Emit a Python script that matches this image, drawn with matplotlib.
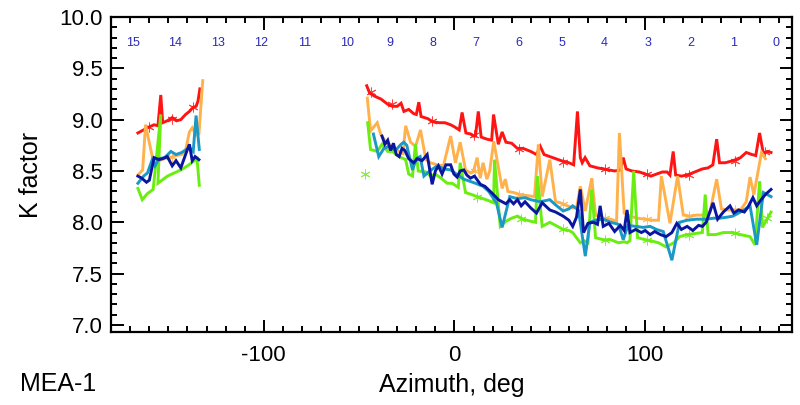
import matplotlib
matplotlib.use("Agg")
import matplotlib.pyplot as plt
import numpy as np
from matplotlib.ticker import MultipleLocator, FormatStrFormatter

plt.rcParams["font.family"] = ["Liberation Sans", "DejaVu Sans"]
plt.rcParams["axes.unicode_minus"] = False

NAN = float("nan")

# sector numbers written along the top of the plot
SECTOR_LABELS = [str(i) for i in range(15, -1, -1)]
SECTOR_AZ = [-168.75, -146.25, -123.75, -101.25, -78.75, -56.25, -33.75, -11.25,
             11.25, 33.75, 56.25, 78.75, 101.25, 123.75, 146.25, 168.75]

# --- red ---
RED_AZ = [-166, -163, -160, -157.5, -155.5, -154, -153, -150.5, -148, -145.5,
          -143.5, -141, -139, -137, -135.5, -134.5, -133.5, NAN,
          -46, -44.5, -42, -38.5, -35, -32.5, -30, -28, -26.5, -24,
          -21.5, -20, -18.7, -17.5, -14, -11.5, -8, -5, -2, 0,
          2.5, 4, 6, 8.5, 10, 11, 12.5, 14, 17, 19.5,
          20.5, 23, 25, 27, 30, 33, 36, 40, 43, 45,
          47, 50, 53, 56, 60, 62.5, 64.5, 66, 67, 68.5,
          71, 75, 78, 81, 84, 87, 88.5, 90, 93, 97,
          100, 103, 106, 109, 111.5, 113, 114.7, 116, 119, 122,
          126, 130, 133, 135.5, 137.5, 139, 142, 146, 150, 153,
          156, 158, 160, 162, 164, 166]
RED_K = [8.87, 8.90, 8.93, 8.95, 8.94, 9.24, 8.97, 8.99, 9.02, 8.99,
         9.00, 9.05, 9.08, 9.12, 9.13, 9.18, 9.30, NAN,
         9.33, 9.26, 9.23, 9.20, 9.15, 9.13, 9.13, 9.16, 9.08, 9.10,
         9.06, 9.05, 9.17, 9.03, 9.01, 8.98, 8.97, 8.97, 8.95, 8.93,
         8.90, 9.07, 8.87, 8.86, 8.84, 8.84, 9.08, 8.83, 8.81, 8.80,
         9.05, 8.76, 8.88, 8.78, 8.77, 8.72, 8.72, 8.69, 8.66, 8.74,
         8.66, 8.64, 8.62, 8.60, 8.58, 8.56, 9.08, 8.63, 8.58, 8.63,
         8.55, 8.53, 8.52, 8.51, 8.50, 8.51, 8.63, 8.52, 8.50, 8.49,
         8.47, 8.45, 8.47, 8.49, 8.49, 8.46, 8.69, 8.46, 8.45, 8.46,
         8.49, 8.52, 8.53, 8.56, 8.81, 8.58, 8.58, 8.60, 8.63, 8.68,
         8.66, 8.65, 8.87, 8.67, 8.69, 8.68]
RED_STAR_AZ = [-160, -148, -137, -44, -33, -12, 10, 34, 57, 79, 101, 123, 147, 163]
RED_STAR_K = [8.93, 9.01, 9.12, 9.27, 9.15, 8.99, 8.85, 8.71, 8.59, 8.52, 8.47, 8.46, 8.60, 8.68]

# --- orange ---
ORANGE_AZ = [-166, -163.5, -162, -158, -155, -152, -149, -146, -143, -141,
             -139, -137.5, -135.5, -134, -132, NAN,
             -45.7, -44, -40.5, -38.7, -36, -33, -30, -27, -25.6, -23,
             -20.4, -17.8, -15, -12.6, -9, -5.8, -2, 0.5, 3, 5.8,
             8.4, 10, 11.9, 13.5, 15, 17, 18.5, 20.6, 25, 26.7,
             28, 31, 34.5, 38, 42, 44, 46, 50, 53, 55.5,
             58, 62, 64, 66, 68.6, 72, 74, 78, 82, 85,
             86.5, 89, 92, 96, 100, 104, 107, 108.5, 113, 117,
             120, 123.6, 127, 130, 134, 137.5, 140, 143, 146, 150,
             153, 155, 157, 161, 163]
ORANGE_K = [8.46, 8.51, 8.95, 8.60, 8.60, 8.62, 8.63, 8.65, 8.66, 8.70,
            8.88, 8.92, 8.85, 8.86, 9.38, NAN,
            9.21, 8.89, 8.97, 8.86, 8.78, 8.72, 8.70, 8.67, 8.94, 8.78,
            8.74, 8.90, 8.61, 8.58, 8.56, 8.55, 8.84, 8.58, 8.78, 8.51,
            8.48, 8.50, 8.63, 8.43, 8.58, 8.42, 8.50, 8.79, 8.33, 8.42,
            8.30, 8.29, 8.27, 8.26, 8.25, 8.76, 8.25, 8.61, 8.20, 8.19,
            8.17, 8.14, 8.14, 8.35, 8.11, 8.43, 8.07, 8.04, 8.03, 8.01,
            8.87, 8.09, 8.06, 8.04, 8.03, 8.02, 8.02, 8.45, 7.99, 8.45,
            8.07, 8.06, 8.07, 8.07, 8.10, 8.42, 8.13, 8.12, 8.12, 8.12,
            8.20, 8.44, 8.27, 8.68, 8.62]
ORANGE_STAR_AZ = [-148, -34, 11, 34, 57, 79, 101, 123, 147]
ORANGE_STAR_K = [8.64, 8.72, 8.50, 8.27, 8.18, 8.04, 8.03, 8.06, 8.12]

# --- green ---
GREEN_AZ = [-166, -163.7, -161, -158, -154, -155.5, -150.5, -147, -143.5, -140,
            -137, -135, -133.8, NAN,
            -45.5, -44, -40.5, -38, -35, -32.6, -29, -25.6, -24, -22,
            -20.5, -19, -15, -12.6, -10, -6.4, -3.8, -1.2, 2, 3,
            5.8, 9, 12, 15, 18, 20.5, 21, 24, 27, 30,
            33, 36, 40, 42.5, 43.5, 46, 50, 53, 57, 60,
            62, 66, 68, 70, 72, 74, 78, 82, 86, 89,
            90.5, 92, 94, 96, 100, 103, 107, 111, 115, 118,
            122, 126, 130, 131.5, 133, 137, 141, 146, 150, 155,
            157.6, 160, 161.5, 163, 166]
GREEN_K = [8.33, 8.22, 8.28, 8.32, 9.05, 8.38, 8.45, 8.48, 8.51, 8.55,
           8.59, 8.62, 8.36, NAN,
           8.97, 8.71, 8.69, 8.76, 8.69, 8.69, 8.64, 8.61, 8.47, 8.45,
           8.76, 8.50, 8.49, 8.45, 8.47, 8.42, 8.38, 8.38, 8.34, 8.58,
           8.29, 8.27, 8.25, 8.23, 8.21, 8.19, 8.61, 7.96, 8.01, 8.04,
           8.06, 8.03, 8.01, 8.00, 8.45, 7.96, 8.00, 7.97, 7.93, 7.92,
           7.90, 7.80, 7.82, 7.80, 8.32, 7.85, 7.83, 7.83, 7.80, 7.81,
           7.80, 7.82, 8.50, 7.85, 7.83, 7.82, 7.80, 7.76, 7.80, 7.86,
           7.88, 7.89, 7.90, 8.27, 7.88, 7.88, 7.90, 7.90, 7.88, 7.86,
           7.78, 8.40, 7.95, 8.00, 8.10]
GREEN_STAR_AZ = [-47, 12, 35, 57, 79, 101, 123, 147, 164]
GREEN_STAR_K = [8.47, 8.25, 8.03, 7.93, 7.83, 7.83, 7.88, 7.90, 8.04]

# --- teal ---
TEAL_AZ = [-166, -163, -161, -158.5, -157, -155, -152, -148.7, -146, -143,
           -139, -137, -135.5, -133.8, NAN,
           -42.5, -39.7, -37, -34, -31, -28, -26.6, -25, -22, -20,
           -18, -16, -13, -9, -5.5, -2, 1, 4.9, 8, 11,
           15, 18, 22, 25, 29, 33, 37, 40, 45, 50,
           53, 57, 60, 62, 65, 68.6, 71, 74, 78, 82,
           86, 88.5, 91, 95, 99, 102.6, 106, 109.5, 114, 118,
           122, 127, 132, 136, 139, 143, 146, 150, 155, 158.5,
           162, 166]
TEAL_K = [8.38, 8.45, 8.48, 8.61, 8.55, 8.62, 8.63, 8.69, 8.66, 8.68,
          8.73, 8.69, 9.04, 8.71, NAN,
          8.86, 8.64, 8.72, 8.74, 8.70, 8.76, 8.78, 8.75, 8.51, 8.62,
          8.64, 8.45, 8.50, 8.55, 8.52, 8.51, 8.47, 8.42, 8.40, 8.38,
          8.35, 8.30, 8.19, 7.95, 8.25, 8.23, 8.24, 8.22, 8.20, 8.22,
          8.17, 8.11, 8.13, 8.16, 8.12, 7.67, 8.00, 8.02, 8.03, 8.00,
          7.98, 7.83, 7.97, 7.96, 7.95, 7.96, 7.93, 7.91, 7.63, 8.00,
          8.02, 8.03, 8.03, 8.04, 8.04, 8.05, 8.06, 8.10, 8.16, 7.78,
          8.29, 8.25]

# --- dark blue ---
BLUE_AZ = [-166, -164, -161.5, -160, -157.5, -155, -153, -150.6, -148, -146,
           -143.5, -141, -139, -137.5, -136, -134, NAN,
           -38, -36.5, -35, -33.5, -32, -30.5, -29, -27.5, -26, -24,
           -21.4, -19.5, -17, -14.3, -11.7, -10, -8.4, -6.5, -4.5, -2,
           -0.3, 1.4, 3, 4.9, 6.5, 8.4, 10.5, 13.6, 16, 18.8,
           21, 23, 25, 27, 29, 31, 33, 35, 37, 40,
           43, 46, 50, 53, 57, 60, 62, 64, 66, 67.7,
           70, 73, 75, 76.4, 78, 81, 84, 87, 89, 90.5,
           92, 95, 98, 100, 102.6, 105, 108, 111, 114, 116.6,
           119, 122, 125, 128, 130, 132, 135.6, 138, 141, 144.5,
           146.5, 149, 152, 154, 156.5, 158.5, 160, 163, 166]
BLUE_K = [8.45, 8.43, 8.39, 8.41, 8.63, 8.61, 8.62, 8.64, 8.55, 8.60,
          8.53, 8.66, 8.76, 8.60, 8.64, 8.61, NAN,
          8.84, 8.76, 8.80, 8.70, 8.77, 8.66, 8.64, 8.72, 8.70, 8.62,
          8.58, 8.62, 8.60, 8.66, 8.37, 8.50, 8.55, 8.47, 8.56, 8.56,
          8.47, 8.44, 8.50, 8.51, 8.46, 8.43, 8.45, 8.37, 8.35, 8.30,
          8.26, 8.22, 8.20, 8.18, 8.22, 8.18, 8.22, 8.16, 8.20, 8.14,
          8.09, 8.19, 8.12, 8.10, 8.06, 8.02, 7.96, 8.05, 8.32, 7.90,
          7.99, 8.00, 7.98, 8.16, 7.96, 7.99, 7.91, 7.97, 7.92, 8.12,
          7.90, 7.93, 7.90, 7.92, 7.88, 7.91, 7.88, 7.86, 7.90, 7.99,
          7.93, 7.96, 7.92, 7.97, 7.96, 8.00, 8.19, 8.03, 8.10, 8.16,
          8.09, 8.12, 8.10, 8.15, 8.24, 8.16, 8.20, 8.27, 8.32]

SERIES = [
    (RED_AZ, RED_K, RED_STAR_AZ, RED_STAR_K, "#ff1414"),
    (ORANGE_AZ, ORANGE_K, ORANGE_STAR_AZ, ORANGE_STAR_K, "#ffb24c"),
    (GREEN_AZ, GREEN_K, GREEN_STAR_AZ, GREEN_STAR_K, "#6aee10"),
    (TEAL_AZ, TEAL_K, [], [], "#1b98c6"),
    (BLUE_AZ, BLUE_K, [], [], "#0a16a0"),
]

fig = plt.figure(figsize=(8.0, 4.05), dpi=100)
ax = fig.add_axes([0.139, 0.18, 0.851, 0.778])

for az, k, star_az, star_k, color in SERIES:
    ax.plot(az, k, color=color, linewidth=2.1, solid_joinstyle="miter")
    if star_az:
        ax.plot(star_az, star_k, linestyle="none", marker=(6, 2, 0),
                markersize=7, markeredgewidth=0.7, color=color, alpha=0.8)

for label, az in zip(SECTOR_LABELS, SECTOR_AZ):
    ax.text(az, 9.75, label, color="#2a2ab8", fontsize=9,
            ha="center", va="center")

ax.set_xlim(-180, 177)
ax.set_ylim(6.93, 10.0)
ax.xaxis.set_major_locator(MultipleLocator(100))
ax.xaxis.set_minor_locator(MultipleLocator(10))
ax.yaxis.set_major_locator(MultipleLocator(0.5))
ax.yaxis.set_minor_locator(MultipleLocator(0.1))
ax.yaxis.set_major_formatter(FormatStrFormatter("%.1f"))
ax.tick_params(which="both", direction="in", top=True, right=True,
               width=1.4, labelsize=16)
ax.tick_params(which="major", length=9, pad=6)
ax.tick_params(axis="x", which="major", pad=9)
ax.tick_params(which="minor", length=4.5)
for spine in ax.spines.values():
    spine.set_linewidth(1.6)

ax.set_xlabel("Azimuth, deg", fontsize=18, labelpad=5)
ax.set_ylabel("K factor", fontsize=18, labelpad=12)
fig.text(0.025, 0.052, "MEA-1", fontsize=18, ha="left", va="center")

fig.savefig("out.png", dpi=100)
